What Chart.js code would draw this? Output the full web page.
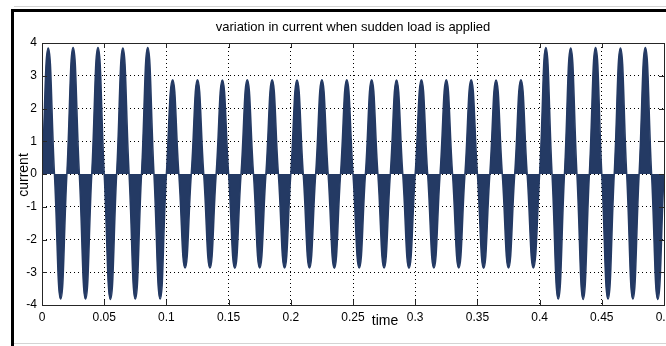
<!DOCTYPE html>
<html>
<head>
<meta charset="utf-8">
<title>variation in current</title>
<script src="https://cdn.jsdelivr.net/npm/chart.js@4/dist/chart.umd.min.js"></script>
<style>
	body { margin: 0; background: #fff; }
	#mycanvas { display: block; }
</style>
</head>
<body>
<canvas id="mycanvas" width="666" height="346"></canvas>
<script>
// peak value of each half cycle (0.01 s each)
var peaks = [
	3.85, -3.82, 3.86, -3.82, 3.86, -3.83, 3.85, -3.82, 3.86, -3.82,
	2.88, -2.87, 2.88, -2.87, 2.87, -2.88, 2.88, -2.87, 2.88, -2.87,
	2.87, -2.87, 2.88, -2.88, 2.88, -2.87, 2.88, -2.87, 2.87, -2.88,
	2.88, -2.87, 2.88, -2.87, 2.88, -2.88, 2.87, -2.87, 2.88, -2.87,
	3.86, -3.82, 3.85, -3.83, 3.86, -3.82, 3.85, -3.82, 3.86, -3.83
];
var halfPeriod = 0.01;
var xTicks = [0, 0.05, 0.1, 0.15, 0.2, 0.25, 0.3, 0.35, 0.4, 0.45, 0.5];
var yTicks = [4, 3, 2, 1, 0, -1, -2, -3, -4];

var titleText = 'variation in current when sudden load is applied';
var xTitle = 'time';
var yTitle = 'current';

var FONT = '"Liberation Sans", Arial, sans-serif';
var BLUE = '#243a64';

// zero crossing, then the peak in the middle of each half cycle
var points = [];
for (var k = 0; k < peaks.length; k++) {
	points.push({x: k * halfPeriod, y: 0});
	points.push({x: k * halfPeriod + halfPeriod / 2, y: peaks[k]});
}
points.push({x: peaks.length * halfPeriod, y: 0});

function fixSize(scale) {
	if (scale.isHorizontal()) scale.height = 41; else scale.width = 42;
	scale.paddingLeft = scale.paddingRight = scale.paddingTop = scale.paddingBottom = 0;
}

var figure = {
	id: 'figure',
	beforeDraw: function(chart) {
		var c = chart.ctx;
		c.save();
		c.fillStyle = '#fff';
		c.fillRect(0, 0, chart.width, chart.height);
		// window frame
		c.fillStyle = '#d4d4d4';
		c.fillRect(14, 6, 652, 1);
		c.fillRect(14, 343, 652, 1);
		c.fillStyle = '#000';
		c.fillRect(11, 9, 655, 3);
		c.fillRect(11, 9, 3, 337);
		c.restore();
	},
	afterDraw: function(chart) {
		var c = chart.ctx, a = chart.chartArea;
		var xs = chart.scales.x, ys = chart.scales.y;
		c.save();
		c.strokeStyle = '#262626';
		c.lineWidth = 1;
		c.strokeRect(Math.round(a.left) + 0.5, Math.round(a.top) + 0.5,
			Math.round(a.right - a.left), Math.round(a.bottom - a.top));
		c.beginPath();
		xTicks.forEach(function(v) {
			var px = Math.round(xs.getPixelForValue(v)) + 0.5;
			c.moveTo(px, a.bottom); c.lineTo(px, a.bottom - 5);
			c.moveTo(px, a.top); c.lineTo(px, a.top + 5);
		});
		yTicks.forEach(function(v) {
			var py = Math.round(ys.getPixelForValue(v)) + 0.5;
			c.moveTo(a.left, py); c.lineTo(a.left + 5, py);
			c.moveTo(a.right, py); c.lineTo(a.right - 5, py);
		});
		c.stroke();

		c.fillStyle = '#000';
		c.textAlign = 'center';
		c.textBaseline = 'middle';
		c.font = '13px ' + FONT;
		c.fillText(titleText, (a.left + a.right) / 2, 27);
		c.font = '14px ' + FONT;
		c.fillText(xTitle, 385, 321);
		c.translate(24, 175);
		c.rotate(-Math.PI / 2);
		c.fillText(yTitle, 0, 0);
		c.restore();
	}
};

var chartdata = {
	datasets: [
		{
			label: 'current',
			data: points,
			borderColor: BLUE,
			backgroundColor: BLUE,
			borderWidth: 1.5,
			fill: 'origin',
			pointRadius: 0,
			tension: 0.5
		}
	]
};

var ctx = document.getElementById('mycanvas');
var chart = new Chart(ctx, {
	type: 'line',
	data: chartdata,
	plugins: [figure],
	options: {
		responsive: false,
		devicePixelRatio: 1,
		animation: false,
		layout: { padding: { left: 0, top: 43, right: 2, bottom: 0 } },
		plugins: { legend: { display: false }, tooltip: { enabled: false } },
		scales: {
			x: {
				type: 'linear',
				min: 0,
				max: 0.5,
				afterFit: fixSize,
				afterBuildTicks: function(s) { s.ticks = xTicks.map(function(v) { return {value: v}; }); },
				grid: { color: '#000', lineWidth: 1, drawTicks: false },
				border: { display: false, dash: [1, 3] },
				ticks: {
					color: '#000',
					padding: 5,
					maxRotation: 0,
					autoSkip: false,
					font: { family: FONT, size: 12 },
					callback: function(v) { return String(+v.toFixed(2)); }
				}
			},
			y: {
				min: -4,
				max: 4,
				afterFit: fixSize,
				afterBuildTicks: function(s) { s.ticks = yTicks.map(function(v) { return {value: v}; }); },
				grid: { color: '#000', lineWidth: 1, drawTicks: false },
				border: { display: false, dash: [1, 3] },
				ticks: {
					color: '#000',
					padding: 5,
					autoSkip: false,
					font: { family: FONT, size: 12 },
					callback: function(v) { return String(v); }
				}
			}
		}
	}
});
</script>
</body>
</html>
